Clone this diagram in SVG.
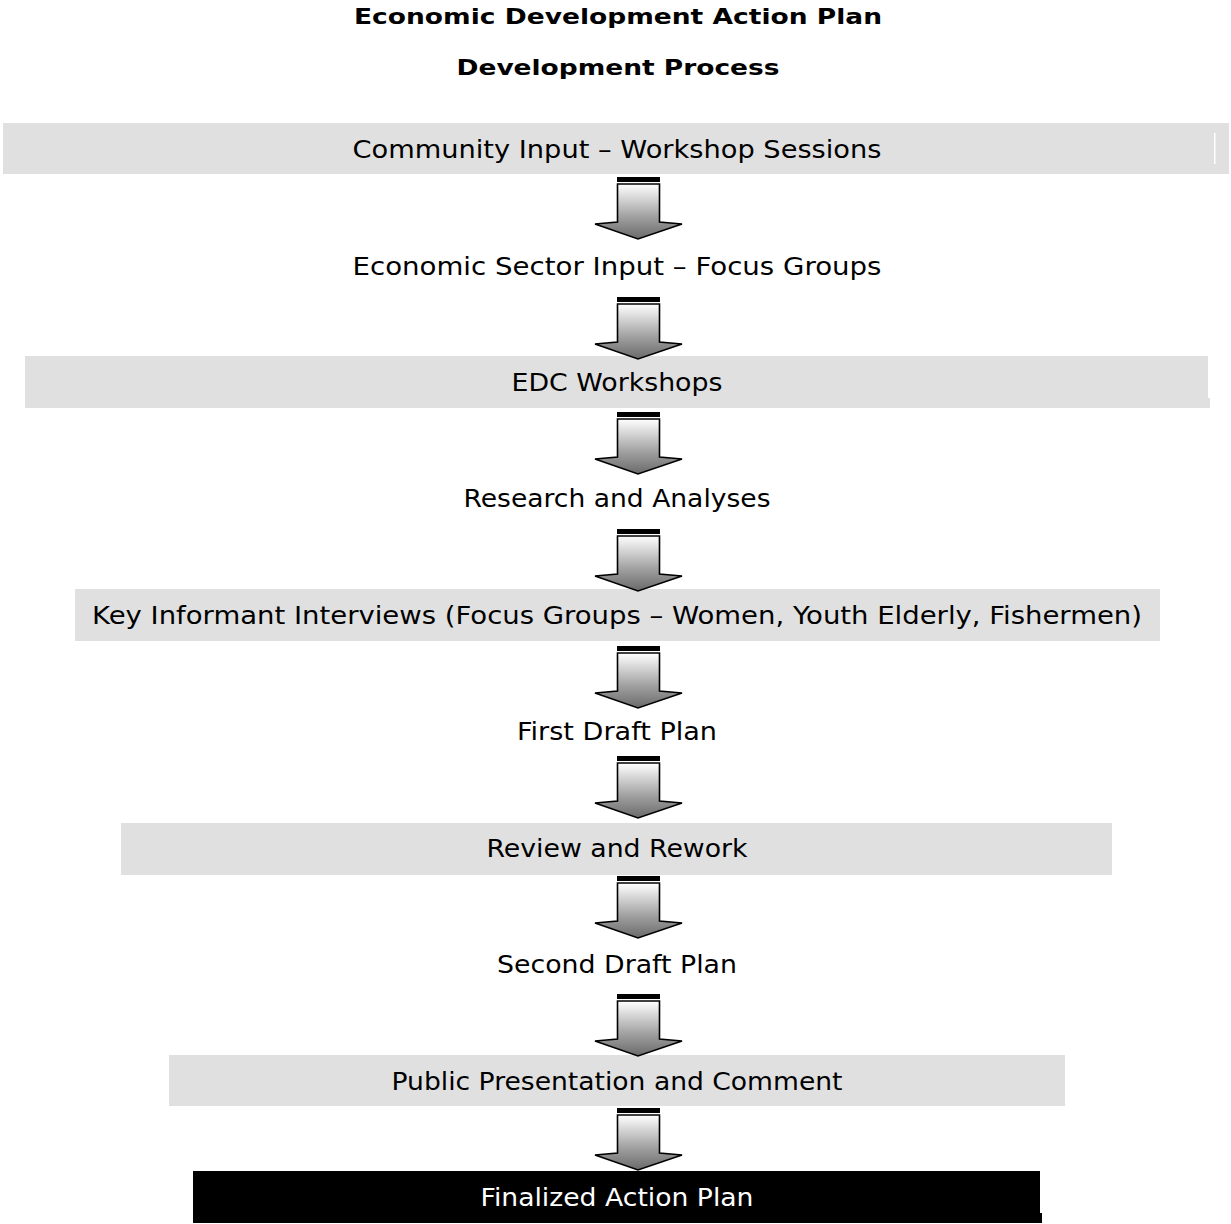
<svg xmlns="http://www.w3.org/2000/svg" xmlns:xlink="http://www.w3.org/1999/xlink" width="1231" height="1224" viewBox="0 0 1231 1224">
<style>
.t{font-family:"DejaVu Sans",Verdana,sans-serif;font-size:24px;fill:#000;text-anchor:middle}
.h{font-family:"DejaVu Sans",Verdana,sans-serif;font-size:22px;font-weight:bold;fill:#000;text-anchor:middle}
.box{fill:#e0e0e0}
.w{fill:#ffffff}
</style>
<defs>
<linearGradient id="g" x1="0" y1="0" x2="0" y2="1">
<stop offset="0" stop-color="#ffffff"/>
<stop offset="0.6" stop-color="#a0a0a0"/>
<stop offset="1" stop-color="#6a6a6a"/>
</linearGradient>
<g id="arrow">
<rect x="-21" y="0" width="43" height="5" fill="#000"/>
<rect x="-21" y="5" width="43" height="1.5" fill="#fff"/>
<path d="M-20.5,7 L21.5,7 L21.5,45 L44,47 L0,62 L-43,47 L-20.5,45 Z" fill="url(#g)" stroke="#000" stroke-width="1.6" stroke-linejoin="miter"/>
</g>
</defs>
<rect width="1231" height="1224" fill="#fff"/>
<g id="title">
<text class="h" x="618" y="24" textLength="528" lengthAdjust="spacingAndGlyphs">Economic Development Action Plan</text>
<text class="h" x="618" y="75" textLength="323" lengthAdjust="spacingAndGlyphs">Development Process</text>
</g>
<g id="n1">
<rect class="box" x="3" y="123" width="1226" height="51"/>
<rect class="w" x="1214" y="133" width="1.5" height="31"/>
<text class="t" x="617" y="158" textLength="529" lengthAdjust="spacingAndGlyphs">Community Input – Workshop Sessions</text>
</g>
<g id="n2">
<text class="t" x="617" y="275" textLength="529" lengthAdjust="spacingAndGlyphs">Economic Sector Input –  Focus Groups</text>
</g>
<g id="n3">
<rect class="box" x="25" y="356" width="1183" height="52"/>
<rect class="box" x="1200" y="398" width="10" height="10"/>
<text class="t" x="617" y="391" textLength="211" lengthAdjust="spacingAndGlyphs">EDC Workshops</text>
</g>
<g id="n4">
<text class="t" x="617" y="507" textLength="307" lengthAdjust="spacingAndGlyphs">Research and Analyses</text>
</g>
<g id="n5">
<rect class="box" x="75" y="589" width="1085" height="52"/>
<text class="t" x="617" y="624" textLength="1050" lengthAdjust="spacingAndGlyphs">Key Informant Interviews (Focus Groups – Women, Youth Elderly, Fishermen)</text>
</g>
<g id="n6">
<text class="t" x="617" y="740" textLength="200" lengthAdjust="spacingAndGlyphs">First Draft Plan</text>
</g>
<g id="n7">
<rect class="box" x="121" y="823" width="991" height="52"/>
<text class="t" x="617" y="857" textLength="261" lengthAdjust="spacingAndGlyphs">Review and Rework</text>
</g>
<g id="n8">
<text class="t" x="617" y="973" textLength="240" lengthAdjust="spacingAndGlyphs">Second Draft Plan</text>
</g>
<g id="n9">
<rect class="box" x="169" y="1055" width="896" height="51"/>
<text class="t" x="617" y="1090" textLength="451" lengthAdjust="spacingAndGlyphs">Public Presentation and Comment</text>
</g>
<g id="n10">
<rect x="193" y="1171" width="847" height="52" fill="#000"/>
<rect x="1038" y="1213" width="4" height="10" fill="#000"/>
<text class="t" x="617" y="1206" style="fill:#fff" textLength="273" lengthAdjust="spacingAndGlyphs">Finalized Action Plan</text>
</g>
<g id="connectors">
<use xlink:href="#arrow" x="638" y="177"/>
<use xlink:href="#arrow" x="638" y="297"/>
<use xlink:href="#arrow" x="638" y="412"/>
<use xlink:href="#arrow" x="638" y="529"/>
<use xlink:href="#arrow" x="638" y="646"/>
<use xlink:href="#arrow" x="638" y="756"/>
<use xlink:href="#arrow" x="638" y="876"/>
<use xlink:href="#arrow" x="638" y="994"/>
<use xlink:href="#arrow" x="638" y="1108"/>
</g>
</svg>
